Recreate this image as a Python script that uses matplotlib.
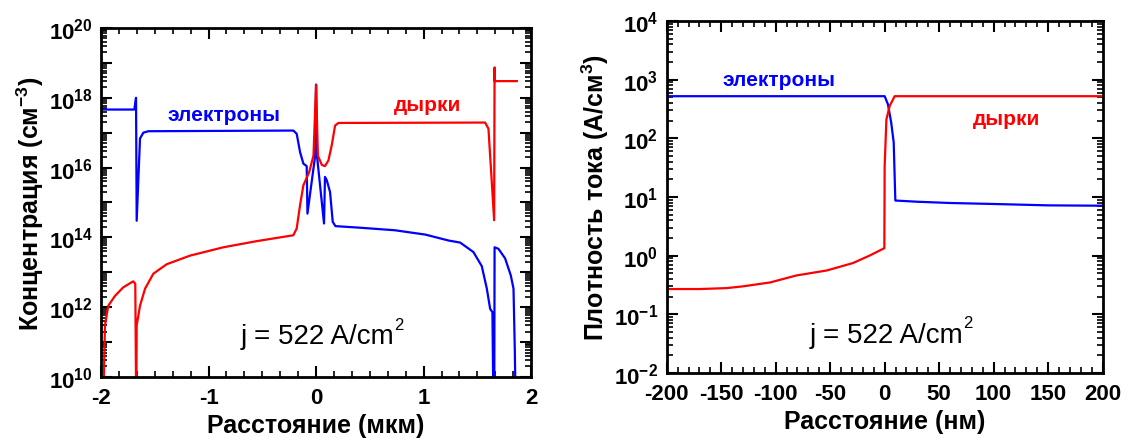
import matplotlib
matplotlib.use("Agg")
import matplotlib.pyplot as plt
import numpy as np
from matplotlib.ticker import FixedLocator, FuncFormatter, LogLocator, MultipleLocator, NullFormatter

plt.rcParams.update({
    "font.family": "Liberation Sans",
    "font.weight": "bold",
    "mathtext.fontset": "custom",
    "mathtext.rm": "Liberation Sans:bold",
    "mathtext.bf": "Liberation Sans:bold",
    "mathtext.it": "Liberation Sans:bold",
    "axes.linewidth": 2.0,
})

BLUE = "#0000ff"
RED = "#ff0000"

# left panel: carrier concentration vs distance (um)
elec_x = [-2.00, -1.69, -1.674, -1.668, -1.637, -1.606, -1.56, -0.211, -0.18,
          -0.149, -0.118, -0.087, -0.080, -0.01, 0.0, 0.01, 0.074, 0.083, 0.10,
          0.13, 0.155, 0.18, 0.40, 0.733, 1.017, 1.234, 1.34, 1.463, 1.541,
          1.588, 1.619, 1.64, 1.65, 1.657, 1.66, 1.696, 1.758, 1.811, 1.836,
          1.848, 1.857]
elec_n = [4.6e17, 4.6e17, 1.0e18, 3.0e14, 6.8e16, 1.0e17, 1.1e17, 1.15e17, 9.3e16,
          2.8e16, 1.3e16, 1.1e16, 4.8e14, 2.0e16, 2.4e18, 2.0e16, 2.5e14, 5.4e15, 4.3e15,
          2.0e15, 2.8e14, 2.1e14, 1.9e14, 1.6e14, 1.2e14, 8.1e13, 7.1e13, 3.8e13, 1.5e13,
          3.4e12, 8.9e11, 7.2e11, 1e9, 1e9, 5.2e13, 4.7e13, 2.5e13, 8.1e12, 3.4e12,
          6.3e10, 1e9]

hole_x = [-1.98, -1.963, -1.932, -1.87, -1.793, -1.70, -1.681, -1.672, -1.668,
          -1.637, -1.59, -1.513, -1.389, -1.172, -0.862, -0.552, -0.211, -0.18,
          -0.149, -0.118, -0.064, -0.024, 0.0, 0.017, 0.053, 0.083, 0.115, 0.146,
          0.177, 0.208, 1.572, 1.603, 1.634, 1.656, 1.660, 1.661, 1.867]
hole_p = [1e9, 3.0e11, 1.1e12, 2.1e12, 3.7e12, 5.5e12, 4.7e12, 1e9, 3.0e11,
          1.1e12, 3.4e12, 9.1e12, 1.7e13, 3.0e13, 5.2e13, 7.8e13, 1.15e14, 1.8e14,
          8.3e14, 3.1e15, 7.4e15, 2.2e16, 2.3e18, 2.2e16, 1.2e16, 1.1e16, 1.6e16, 4.4e16,
          1.6e17, 1.9e17, 1.95e17, 1.3e17, 3.9e15, 3.1e14, 7.4e18, 3.0e18, 3.0e18]

# right panel: current density vs distance (nm)
je_nm = [-200, 0, 3, 6, 8.3, 9.8, 30, 60, 100, 150, 200]
je_val = [522, 522, 380, 186, 85, 8.7, 8.3, 7.9, 7.6, 7.2, 7.1]

jh_nm = [-200, -170, -145, -130, -105, -81, -53, -29, -14, -0.3, 0, 1.6, 4.6, 9.2, 200]
jh_val = [0.27, 0.27, 0.28, 0.30, 0.35, 0.46, 0.56, 0.75, 1.0, 1.34, 34, 210, 355, 522, 522]


def pow10(v, pos, every=1):
    e = int(round(np.log10(v)))
    if e % every:
        return ""
    return r"$\mathbf{10^{%d}}$" % e


def style_axes(ax):
    for s in ax.spines.values():
        s.set_linewidth(2.0)
    ax.tick_params(which="both", direction="in", top=True, right=True)
    ax.tick_params(which="major", length=8, width=1.5)
    ax.tick_params(which="minor", length=4, width=1.2)
    ax.tick_params(axis="y", which="major", labelsize=16, pad=6)
    ax.tick_params(axis="x", which="major", labelsize=16, pad=7)


def current_note(ax, x, y):
    t = ax.text(x, y, "j = 522 A/cm", fontsize=20, fontweight="normal",
                ha="left", va="center")
    ax.annotate("2", xy=(1.0, 0.95), xycoords=t, fontsize=12, fontweight="normal",
                ha="left", va="center")


fig = plt.figure(figsize=(11.32, 4.39), dpi=100)

# left
ax1 = fig.add_axes([0.0892, 0.139, 0.380, 0.795])
ax1.plot(elec_x, elec_n, color=BLUE, lw=1.6)
ax1.plot(hole_x, hole_p, color=RED, lw=1.6)
ax1.set_yscale("log")
ax1.set_xlim(-2, 2)
ax1.set_ylim(1e10, 1e20)
ax1.xaxis.set_major_locator(MultipleLocator(1))
ax1.xaxis.set_minor_locator(MultipleLocator(1 / 6))
ax1.yaxis.set_major_locator(FixedLocator([10.0 ** k for k in range(10, 21)]))
ax1.yaxis.set_minor_locator(LogLocator(base=10, subs=np.arange(2, 10), numticks=30))
ax1.yaxis.set_minor_formatter(NullFormatter())
ax1.yaxis.set_major_formatter(FuncFormatter(lambda v, p: pow10(v, p, every=2)))
ax1.xaxis.set_major_formatter(FuncFormatter(lambda v, p: "%d" % round(v)))
style_axes(ax1)
ax1.set_xlabel("Расстояние (мкм)", fontsize=18, fontweight="bold", labelpad=4)
ax1.set_ylabel(r"Концентрация (см$^{\mathbf{-3}}$)", fontsize=18, fontweight="bold", labelpad=2)
ax1.text(-0.86, 3.3e17, "электроны", color=BLUE, fontsize=15, fontweight="bold",
         ha="center", va="center")
ax1.text(1.04, 6.5e17, "дырки", color=RED, fontsize=15, fontweight="bold",
         ha="center", va="center")
current_note(ax1, -0.70, 1.5e11)

# right
ax2 = fig.add_axes([0.589, 0.148, 0.385, 0.802])
ax2.plot(je_nm, je_val, color=BLUE, lw=1.6)
ax2.plot(jh_nm, jh_val, color=RED, lw=1.6)
ax2.set_yscale("log")
ax2.set_xlim(-200, 200)
ax2.set_ylim(1e-2, 1e4)
ax2.xaxis.set_major_locator(MultipleLocator(50))
ax2.xaxis.set_minor_locator(MultipleLocator(10))
ax2.yaxis.set_major_locator(FixedLocator([10.0 ** k for k in range(-2, 5)]))
ax2.yaxis.set_minor_locator(LogLocator(base=10, subs=np.arange(2, 10), numticks=30))
ax2.yaxis.set_minor_formatter(NullFormatter())
ax2.yaxis.set_major_formatter(FuncFormatter(pow10))
ax2.xaxis.set_major_formatter(FuncFormatter(lambda v, p: "%d" % round(v)))
style_axes(ax2)
ax2.set_xlabel("Расстояние (нм)", fontsize=18, fontweight="bold", labelpad=4)
ax2.set_ylabel(r"Плотность тока (A/см$^{\mathbf{3}}$)", fontsize=18, fontweight="bold", labelpad=2)
ax2.text(-97, 1000, "электроны", color=BLUE, fontsize=15, fontweight="bold",
         ha="center", va="center")
ax2.text(112, 220, "дырки", color=RED, fontsize=15, fontweight="bold",
         ha="center", va="center")
current_note(ax2, -69, 0.045)

fig.savefig("out.png", dpi=100)
